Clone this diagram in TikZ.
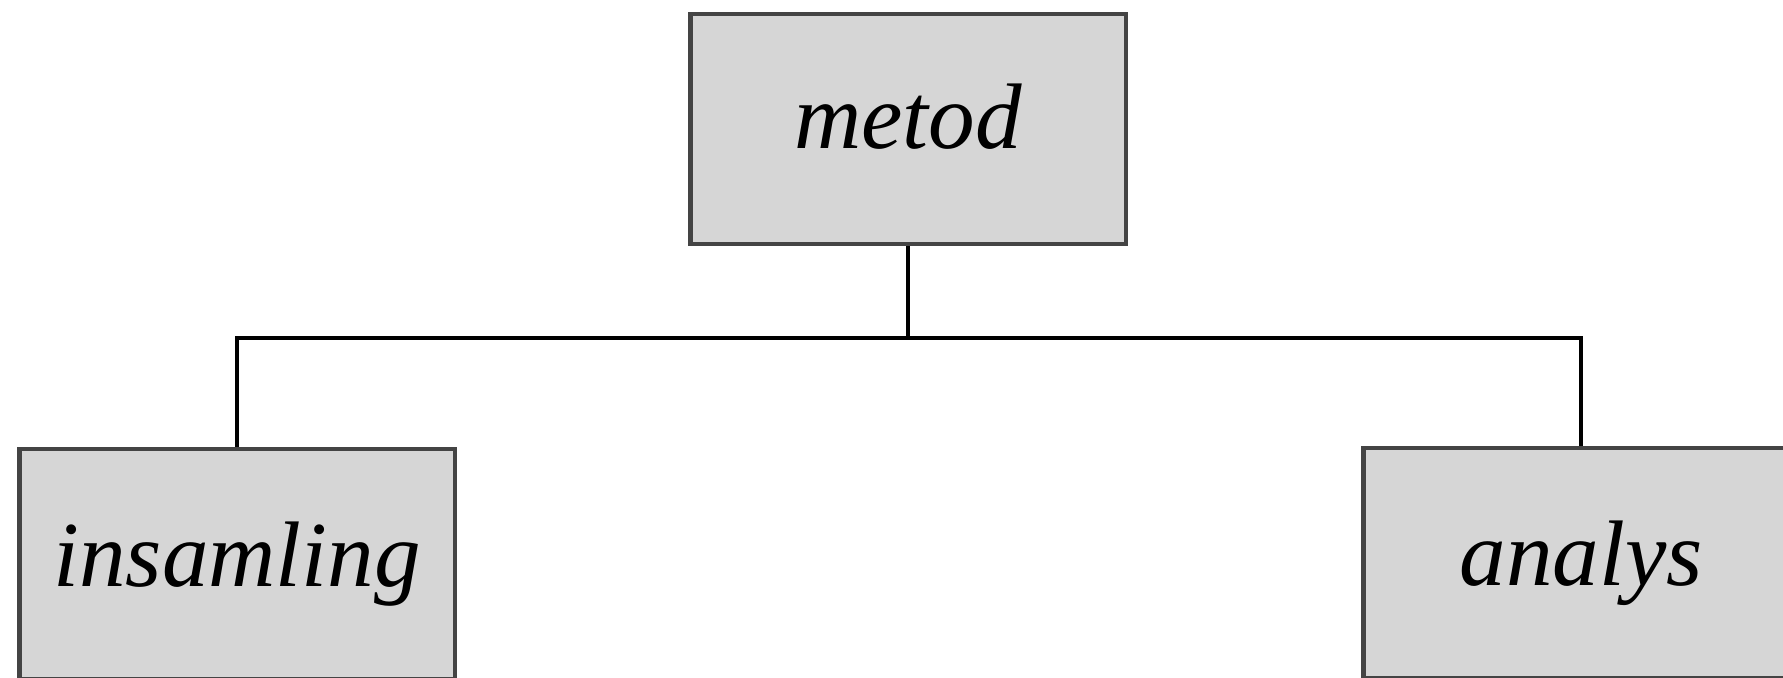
\documentclass[tikz,border=0pt]{standalone}
\usepackage{fontspec}
\setmainfont{Liberation Serif}
\definecolor{boxfill}{HTML}{D6D6D6}
\definecolor{boxline}{HTML}{444444}
\tikzset{
  topic/.style={draw=boxline, fill=boxfill, line width=2.8pt,
    minimum width=8.72cm, minimum height=4.6cm, inner sep=0pt,
    font=\fontsize{53}{60}\selectfont\itshape},
  branch/.style={draw=black, line width=2.8pt}
}
\begin{document}
\begin{tikzpicture}[x=0.02cm,y=-0.02cm]
\useasboundingbox (0,0) rectangle (1783,677);
\node [topic, text depth=0.5cm] (metod) at (908,129) {metod};
\node [topic] (insamling) at (237,564) {insamling};
\node [topic] (analys) at (1581,563) {analys};
\coordinate (fork) at (908,338);
\draw [branch] (metod.south) -- (fork);
\draw [branch] (insamling.north) -- (insamling.north |- fork) -- (analys.north |- fork) -- (analys.north);
\end{tikzpicture}
\end{document}
